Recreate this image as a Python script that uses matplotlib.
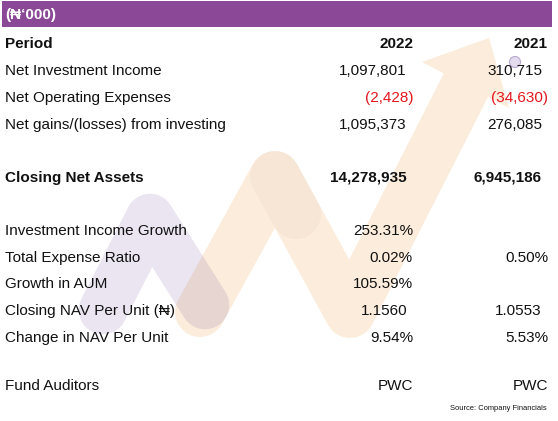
import matplotlib
matplotlib.use("Agg")
import matplotlib.pyplot as plt
from matplotlib.patches import Polygon, Rectangle, Circle

plt.rcParams["font.family"] = ["Liberation Sans", "DejaVu Sans"]

# --- donnees du tableau ---
UNIT_LABEL = "(\u20a6\u2018000)"
PERIODS = ["2022", "2021"]
ROW_LABELS = [
    "Net Investment Income",
    "Net Operating Expenses",
    "Net gains/(losses) from investing",
    "Closing Net Assets",
    "Investment Income Growth",
    "Total Expense Ratio",
    "Growth in AUM",
    "Closing NAV Per Unit (\u20a6)",
    "Change in NAV Per Unit",
    "Fund Auditors",
]
VALUES_2022 = ["1,097,801", "(2,428)", "1,095,373", "14,278,935", "253.31%",
               "0.02%", "105.59%", "1.1560", "9.54%", "PWC"]
VALUES_2021 = ["310,715", "(34,630)", "276,085", "6,945,186", "",
               "0.50%", "", "1.0553", "5.53%", "PWC"]
BOLD_ROWS = ["Closing Net Assets"]
SOURCE = "Source: Company Financials"

# --- mise en page (pixels) ---
W, H, DPI = 558, 421, 100
ROW_Y = [71, 98, 125, 178, 231, 258, 284, 311, 338, 386]
HEADER_Y = 44
COL_X = [413, 548]
FS = 11
PURPLE = "#8a4897"
RED = "#e3161e"
TXT = "#111111"

fig = plt.figure(figsize=(W / DPI, H / DPI), dpi=DPI)
ax = fig.add_axes([0, 0, 1, 1])
ax.set_xlim(0, W)
ax.set_ylim(H, 0)
ax.axis("off")

# --- filigrane (fleche en W) ---
orange = "#fcecdb"
ax.plot([200, 275, 350, 466], [312, 176, 313, 85], color=orange, lw=36,
        solid_capstyle="round", solid_joinstyle="round", zorder=1)
ax.add_patch(Polygon([[422, 62], [489, 38], [509, 108]], closed=True,
                     color=orange, lw=0, zorder=1))
# zone un peu plus sombre au sommet (recouvrement)
ax.plot([275, 296], [176, 214], color="#a08070", alpha=0.05, lw=36,
        solid_capstyle="round", zorder=1.5)
ax.plot([103, 150, 205], [310, 218, 305], color="#6b4a9e", alpha=0.14, lw=35,
        solid_capstyle="round", solid_joinstyle="round", zorder=2)
ax.add_patch(Circle((515, 62), 5.5, fc="#e4dcee", ec="#b8a8cf", lw=0.8, zorder=2))

# --- bandeau violet ---
ax.add_patch(Rectangle((2, 1), 550, 26, color=PURPLE, lw=0, zorder=3))
ax.text(5, 15, UNIT_LABEL, color="white", fontsize=FS, fontweight="bold",
        va="center", ha="left", zorder=4)

# --- en-tete ---
ax.text(5, HEADER_Y, "Period", fontsize=FS, fontweight="bold", color=TXT,
        va="center", ha="left", zorder=5)
for x, p in zip(COL_X, PERIODS):
    ax.text(x, HEADER_Y, p, fontsize=FS, fontweight="bold", color=TXT,
            va="center", ha="right", zorder=5)

# --- lignes ---
for y, lab, v22, v21 in zip(ROW_Y, ROW_LABELS, VALUES_2022, VALUES_2021):
    w = "bold" if lab in BOLD_ROWS else "normal"
    ax.text(5, y, lab, fontsize=FS, fontweight=w, color=TXT,
            va="center", ha="left", zorder=5)
    for x, v in zip(COL_X, (v22, v21)):
        if not v:
            continue
        neg = v.startswith("(")
        # format comptable : les nombres nus laissent la place de la parenthese
        dx = 0 if (neg or v.endswith("%") or v.isalpha()) else -6
        ax.text(x + dx, y, v, fontsize=FS, fontweight=w,
                color=RED if neg else TXT, va="center", ha="right", zorder=5)

ax.text(547, 408, SOURCE, fontsize=5.4, color=TXT, va="center", ha="right",
        zorder=5)

fig.savefig("out.png", dpi=DPI)
